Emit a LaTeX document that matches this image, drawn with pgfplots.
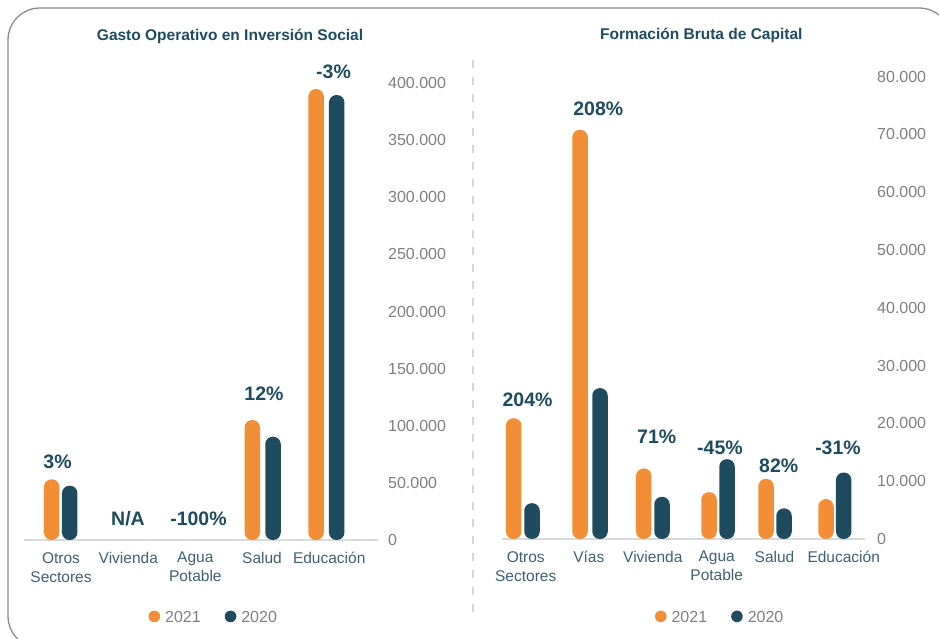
\documentclass[border=0pt]{standalone}
\usepackage{pgfplots}
\pgfplotsset{compat=1.18}
\usepackage{fontspec}
\setmainfont{Liberation Sans}
\definecolor{cA}{HTML}{F28F36}
\definecolor{cB}{HTML}{1F4B5F}
\definecolor{ttl}{HTML}{1F4B5F}
\definecolor{catc}{HTML}{3F6074}
\definecolor{tickc}{HTML}{7F7F7F}
\definecolor{basec}{HTML}{D9D9D9}
\definecolor{framec}{HTML}{8C8C8C}
\definecolor{sepc}{HTML}{D6D6D6}

\tikzset{pct/.style={font=\bfseries\fontsize{19.5}{22}\selectfont, text=ttl, inner sep=0pt}}
\pgfplotsset{
  mybars/.style={
    scale only axis, anchor=south west, clip=false,
    ybar, bar width=15.5pt, ymin=0,
    axis x line*=bottom, axis y line*=right,
    x axis line style={draw=basec, line width=1.5pt, -},
    y axis line style={draw=none},
    major tick length=0pt,
    xtick style={draw=none}, ytick style={draw=none},
    yticklabel style={anchor=west, inner sep=0pt, xshift=10pt, font=\fontsize{16}{19}\selectfont, text=tickc},
    xticklabel style={align=center, anchor=north, inner sep=0pt, yshift=-12pt, font=\fontsize{15.5}{19}\selectfont, text=catc},
    scaled y ticks=false,
    title style={font=\bfseries\fontsize{15.5}{19}\selectfont, text=ttl, anchor=center},
    legend style={draw=none, fill=none, legend columns=2, font=\fontsize{16}{19}\selectfont, text=tickc, anchor=center, inner sep=0pt,
      /tikz/every odd column/.append style={column sep=3pt},
      /tikz/every even column/.append style={column sep=22pt}},
  },
  barA/.style={fill=cA, draw=none, bar shift=0pt, rounded corners=7.5pt,
    legend image code/.code={\fill[cA] (0pt,1.7pt) circle (5.8pt);}},
  barB/.style={fill=cB, draw=none, bar shift=0pt, rounded corners=7.5pt,
    legend image code/.code={\fill[cB] (0pt,1.7pt) circle (5.8pt);}},
}

\begin{document}
\begin{tikzpicture}
\useasboundingbox (0pt,0pt) rectangle (939pt,639pt);
% frame
\draw[framec, line width=1.3pt, rounded corners=32pt] (8pt,631pt) rectangle (951pt,-9pt);
% separator
\draw[sepc, line width=1.5pt, dash pattern=on 8pt off 9pt] (473pt,579pt) -- (473pt,19pt);

% Left chart
\begin{axis}[mybars,
  at={(24pt,99pt)}, width=354pt, height=457pt,
  xmin=24, xmax=378, ymax=400000,
  ytick={0,50000,100000,150000,200000,250000,300000,350000,400000},
  yticklabels={0,50.000,100.000,150.000,200.000,250.000,300.000,350.000,400.000},
  xtick={61,128.3,195.3,262,329.2},
  xticklabels={{Otros\\Sectores},Vivienda,{Agua\\Potable},Salud,Educación},
  title={Gasto Operativo en Inversión Social},
  title style={at={(0.582,1.0897)}},
  legend style={at={(0.536,-0.171)}},
]
\addplot[barA] coordinates {(51.7,53100) (252.3,105000) (316,394700)};
\addplot[barB] coordinates {(69.7,47500) (273,90400) (336.7,389500)};
\legend{2021,2020}
\node[pct] at (axis cs:57.5,68530) {3\%};
\node[pct] at (axis cs:128,18380) {N/A};
\node[pct] at (axis cs:198.5,18380) {-100\%};
\node[pct] at (axis cs:264,127790) {12\%};
\node[pct] at (axis cs:333.5,409630) {-3\%};
\end{axis}

% Right chart
\begin{axis}[mybars,
  at={(502pt,100pt)}, width=363pt, height=462.4pt,
  xmin=502, xmax=865, ymax=80000,
  ytick={0,10000,20000,30000,40000,50000,60000,70000,80000},
  yticklabels={0,10.000,20.000,30.000,40.000,50.000,60.000,70.000,80.000},
  yticklabel style={xshift=2pt},
  xtick={525.7,588.8,652.8,716.7,774.5,843.7},
  xticklabels={{Otros\\Sectores},Vías,Vivienda,{Agua\\Potable},Salud,Educación},
  title={Formación Bruta de Capital},
  title style={at={(0.549,1.0755)}},
  legend style={at={(0.601,-0.171)}},
]
\addplot[barA] coordinates {(513.7,20900) (580,70800) (643.7,12200) (709,8100) (766,10400) (826,6900)};
\addplot[barB] coordinates {(532,6200) (600,26100) (662,7300) (727,13800) (784,5300) (843.7,11500)};
\legend{2021,2020}
\node[pct] at (axis cs:527.5,24050) {204\%};
\node[pct] at (axis cs:598.3,74390) {208\%};
\node[pct] at (axis cs:656.7,17700) {71\%};
\node[pct] at (axis cs:720,15800) {-45\%};
\node[pct] at (axis cs:778.7,12680) {82\%};
\node[pct] at (axis cs:838,15800) {-31\%};
\end{axis}
\end{tikzpicture}
\end{document}
